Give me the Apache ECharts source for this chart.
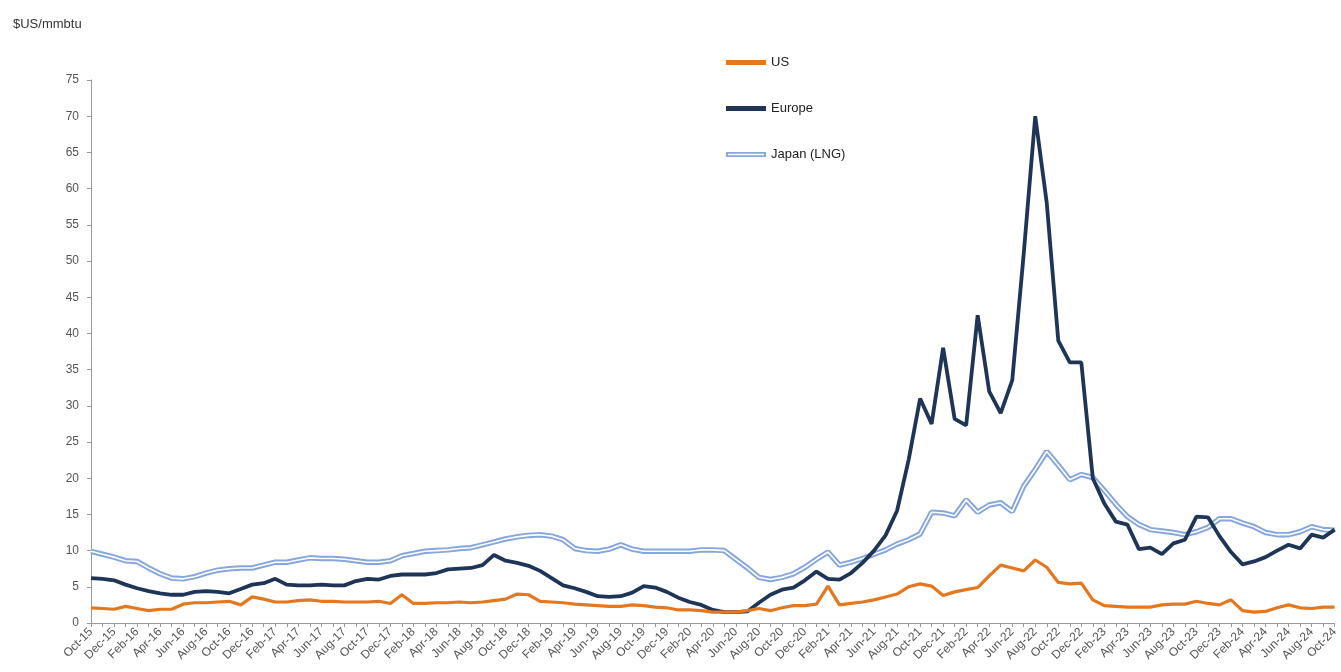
<!DOCTYPE html>
<html>
<head>
<meta charset="utf-8">
<script src="https://cdn.jsdelivr.net/npm/echarts@6/dist/echarts.min.js"></script>
<style>
html,body{margin:0;padding:0;background:#fff;}
#chart{width:1341px;height:672px;}
</style>
</head>
<body>
<div id="chart"></div>
<script>
var months = [
'Oct-15','Nov-15','Dec-15','Jan-16','Feb-16','Mar-16','Apr-16','May-16','Jun-16','Jul-16','Aug-16','Sep-16',
'Oct-16','Nov-16','Dec-16','Jan-17','Feb-17','Mar-17','Apr-17','May-17','Jun-17','Jul-17','Aug-17','Sep-17',
'Oct-17','Nov-17','Dec-17','Jan-18','Feb-18','Mar-18','Apr-18','May-18','Jun-18','Jul-18','Aug-18','Sep-18',
'Oct-18','Nov-18','Dec-18','Jan-19','Feb-19','Mar-19','Apr-19','May-19','Jun-19','Jul-19','Aug-19','Sep-19',
'Oct-19','Nov-19','Dec-19','Jan-20','Feb-20','Mar-20','Apr-20','May-20','Jun-20','Jul-20','Aug-20','Sep-20',
'Oct-20','Nov-20','Dec-20','Jan-21','Feb-21','Mar-21','Apr-21','May-21','Jun-21','Jul-21','Aug-21','Sep-21',
'Oct-21','Nov-21','Dec-21','Jan-22','Feb-22','Mar-22','Apr-22','May-22','Jun-22','Jul-22','Aug-22','Sep-22',
'Oct-22','Nov-22','Dec-22','Jan-23','Feb-23','Mar-23','Apr-23','May-23','Jun-23','Jul-23','Aug-23','Sep-23',
'Oct-23','Nov-23','Dec-23','Jan-24','Feb-24','Mar-24','Apr-24','May-24','Jun-24','Jul-24','Aug-24','Sep-24',
'Oct-24'
];

var usPrices = [
2.1, 2.0, 1.9, 2.3, 2.0, 1.7, 1.9, 1.9, 2.6, 2.8, 2.8, 2.9, 3.0,
2.5, 3.6, 3.3, 2.9, 2.9, 3.1, 3.2, 3.0, 3.0, 2.9, 2.9, 2.9,
3.0, 2.7, 3.9, 2.7, 2.7, 2.8, 2.8, 2.9, 2.8, 2.9, 3.1, 3.3,
4.0, 3.9, 3.0, 2.9, 2.8, 2.6, 2.5, 2.4, 2.3, 2.3, 2.5, 2.4,
2.2, 2.1, 1.8, 1.8, 1.7, 1.5, 1.5, 1.5, 1.7, 2.0, 1.7, 2.1,
2.4, 2.4, 2.6, 5.1, 2.5, 2.7, 2.9, 3.2, 3.6, 4.0, 5.0, 5.4,
5.1, 3.8, 4.3, 4.6, 4.9, 6.5, 8.0, 7.6, 7.2, 8.7, 7.7, 5.6,
5.4, 5.5, 3.2, 2.4, 2.3, 2.2, 2.2, 2.2, 2.5, 2.6, 2.6, 3.0,
2.7, 2.5, 3.2, 1.7, 1.5, 1.6, 2.1, 2.5, 2.1, 2.0, 2.2, 2.2
];

var europePrices = [
6.2, 6.1, 5.9, 5.3, 4.8, 4.4, 4.1, 3.9, 3.9, 4.3, 4.4, 4.3, 4.1,
4.7, 5.3, 5.5, 6.1, 5.3, 5.2, 5.2, 5.3, 5.2, 5.2, 5.8, 6.1,
6.0, 6.5, 6.7, 6.7, 6.7, 6.9, 7.4, 7.5, 7.6, 8.0, 9.4, 8.6,
8.3, 7.9, 7.2, 6.2, 5.2, 4.8, 4.3, 3.7, 3.6, 3.7, 4.2, 5.1,
4.9, 4.3, 3.5, 2.9, 2.5, 1.8, 1.5, 1.5, 1.6, 2.8, 3.9, 4.6,
4.9, 5.9, 7.1, 6.1, 6.0, 6.9, 8.3, 10.0, 12.1, 15.5, 22.5, 31.0,
27.5, 38.0, 28.2, 27.3, 42.5, 32.0, 29.0, 33.5, 51.0, 70.0, 58.0, 39.0,
36.0, 36.0, 20.0, 16.5, 14.0, 13.6, 10.2, 10.4, 9.5, 11.0, 11.5, 14.7,
14.6, 12.0, 9.8, 8.1, 8.5, 9.1, 10.0, 10.8, 10.3, 12.2, 11.8, 12.9
];

var japanPrices = [
9.9, 9.5, 9.1, 8.6, 8.5, 7.6, 6.8, 6.2, 6.1, 6.4, 6.9, 7.3, 7.5,
7.6, 7.6, 8.0, 8.4, 8.4, 8.7, 9.0, 8.9, 8.9, 8.8, 8.6, 8.4,
8.4, 8.6, 9.3, 9.6, 9.9, 10.0, 10.1, 10.3, 10.4, 10.8, 11.2, 11.6,
11.9, 12.1, 12.2, 12.0, 11.5, 10.3, 10.0, 9.9, 10.2, 10.8, 10.2, 9.9,
9.9, 9.9, 9.9, 9.9, 10.1, 10.1, 10.0, 8.8, 7.6, 6.3, 6.0, 6.3,
6.8, 7.7, 8.8, 9.8, 8.0, 8.4, 8.9, 9.5, 10.1, 10.9, 11.5, 12.3,
15.3, 15.2, 14.8, 17.0, 15.3, 16.3, 16.6, 15.4, 18.9, 21.2, 23.7, 21.8,
19.8, 20.5, 20.1, 18.3, 16.4, 14.7, 13.6, 12.9, 12.7, 12.5, 12.2, 12.6,
13.2, 14.4, 14.4, 13.8, 13.3, 12.5, 12.2, 12.2, 12.6, 13.3, 12.9, 12.8
];

var seriesNames = ['US', 'Europe', 'Japan (LNG)'];
var unitLabel = '$US/mmbtu';

var font = 'Liberation Sans, Arial, sans-serif';
var chart = echarts.init(document.getElementById('chart'), null, {renderer: 'canvas'});
chart.setOption({
  animation: false,
  backgroundColor: '#ffffff',
  title: {
    text: unitLabel,
    left: 8, top: 13,
    textStyle: {fontFamily: font, fontSize: 13, fontWeight: 'normal', color: '#333'}
  },
  legend: {
    orient: 'vertical',
    left: 721, top: 51,
    itemWidth: 40, itemHeight: 5,
    itemGap: 33,
    textStyle: {fontFamily: font, fontSize: 13, color: '#222'},
    itemTextGap: 4,
    data: [
      {name: seriesNames[0], icon: 'rect'},
      {name: seriesNames[1], icon: 'rect'},
      {name: seriesNames[2], icon: 'path://M0,0H40V5H0Z M2,1.8V3.2H38V1.8Z'}
    ]
  },
  grid: {left: 91, top: 80, width: 1246, height: 543},
  xAxis: {
    type: 'category',
    data: months,
    boundaryGap: false,
    axisLine: {lineStyle: {color: '#9a9a9a', width: 1}},
    axisTick: {show: true, interval: 0, length: 4, lineStyle: {color: '#9a9a9a'}},
    axisLabel: {interval: 1, rotate: 45, fontFamily: font, fontSize: 12, color: '#555', margin: 7},
    splitLine: {show: false}
  },
  yAxis: {
    type: 'value',
    min: 0, max: 75, interval: 5,
    axisLine: {show: true, lineStyle: {color: '#9a9a9a', width: 1}},
    axisTick: {show: true, length: 4, lineStyle: {color: '#9a9a9a'}},
    axisLabel: {fontFamily: font, fontSize: 12, color: '#555', margin: 12},
    splitLine: {show: false}
  },
  series: [
    {
      name: seriesNames[2], type: 'line', data: japanPrices,
      showSymbol: false, symbol: 'none',
      lineStyle: {color: '#86a6dc', width: 5.5},
      itemStyle: {color: '#86a6dc'},
      z: 2
    },
    {
      name: 'japan-inner', type: 'line', data: japanPrices,
      showSymbol: false, symbol: 'none',
      lineStyle: {color: '#ffffff', width: 1.6},
      itemStyle: {color: '#ffffff'},
      z: 3, silent: true
    },
    {
      name: seriesNames[1], type: 'line', data: europePrices,
      showSymbol: false, symbol: 'none',
      lineStyle: {color: '#1f3558', width: 3.8},
      itemStyle: {color: '#1f3558'},
      z: 4
    },
    {
      name: seriesNames[0], type: 'line', data: usPrices,
      showSymbol: false, symbol: 'none',
      lineStyle: {color: '#e5771f', width: 3.2},
      itemStyle: {color: '#e5771f'},
      z: 5
    }
  ]
});
</script>
</body>
</html>
